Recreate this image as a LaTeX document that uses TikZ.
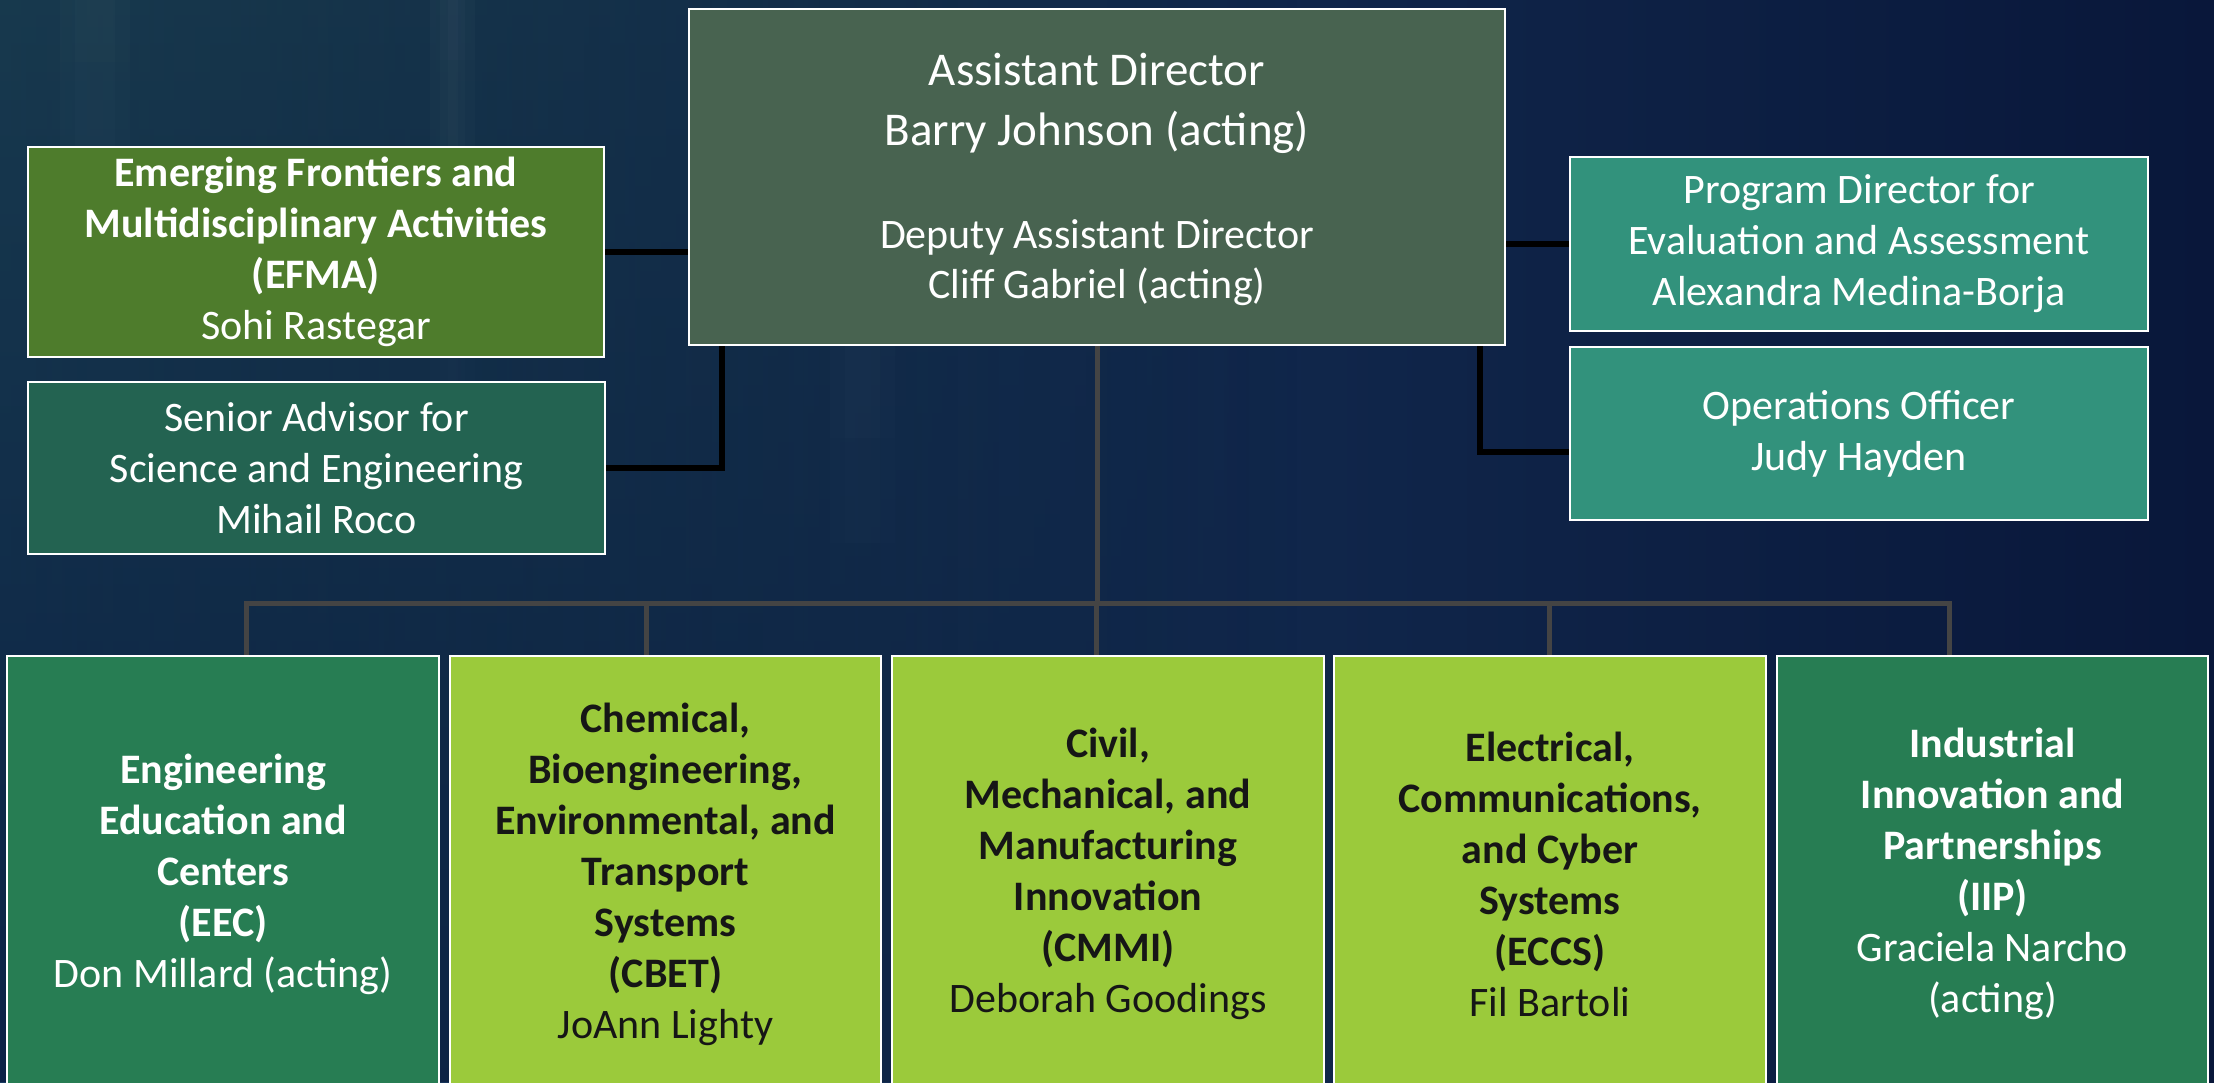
\documentclass[tikz,border=0pt]{standalone}
\usepackage{fontspec}
\setmainfont{Carlito}
\usetikzlibrary{fadings}
\definecolor{bgleft}{HTML}{1A3C62}
\definecolor{bgright}{HTML}{09173A}
\definecolor{bgteal}{HTML}{215068}
\definecolor{bgblue}{HTML}{0D2A5C}
\definecolor{adgreen}{HTML}{486350}
\definecolor{olive}{HTML}{4E7C2C}
\definecolor{pine}{HTML}{236351}
\definecolor{teal}{HTML}{32927C}
\definecolor{forest}{HTML}{277D53}
\definecolor{lime}{HTML}{9BCA3B}
\definecolor{ink}{HTML}{161616}
\definecolor{busgray}{HTML}{444444}
\begin{document}
\begin{tikzpicture}[x=1pt,y=-1pt,
  orgbox/.style={draw=white, line width=2.5pt, inner sep=0pt, align=center,
    text=white, font=\fontsize{42}{51}\selectfont},
  limebox/.style={orgbox, fill=lime, text=ink},
  conn/.style={line width=5.5pt, black},
  busline/.style={line width=5pt, busgray},
  streak/.style={white, path fading=south},
  bigtext/.style={text=white, align=center, font=\fontsize{47}{60}\selectfont},
  subtext/.style={text=white, align=center, font=\fontsize{42}{50}\selectfont}]
\useasboundingbox (0,0) rectangle (2214,1082);
\clip (0,0) rectangle (2214,1082);

% backdrop with soft vertical streaks
\fill[left color=bgleft, right color=bgright] (0,0) rectangle (2214,1082);
\fill[top color=bgteal, bottom color=bgblue, path fading=east, fill opacity=0.6]
  (0,0) rectangle (1300,1082);
\foreach \a/\b in {430/475, 440/465, 448/458}
  \fill[streak, opacity=0.018] (\a,0) rectangle (\b,600);
\foreach \a/\b in {830/895, 845/880}
  \fill[streak, opacity=0.015] (\a,280) rectangle (\b,700);
\foreach \a/\b in {60/130, 75/115}
  \fill[streak, opacity=0.015] (\a,0) rectangle (\b,500);

% upper level
\node[orgbox, fill=adgreen, minimum width=816, minimum height=336] (ad) at (1097,177) {};
\node[bigtext] (adname) at (1097,103) {Assistant Director\\Barry Johnson (acting)};
\node[subtext] (addep) at (1097,263) {Deputy Assistant Director\\Cliff Gabriel (acting)};

\node[orgbox, fill=olive, minimum width=576, minimum height=210] (efma) at (316,252)
  {\textbf{Emerging Frontiers and}\\\textbf{Multidisciplinary Activities}\\\textbf{(EFMA)}\\Sohi Rastegar};
\node[orgbox, fill=pine, minimum width=577, minimum height=172] (sa) at (316.5,468)
  {Senior Advisor for\\Science and Engineering\\Mihail Roco};
\node[orgbox, fill=teal, minimum width=578, minimum height=174] (pd) at (1859,244)
  {Program Director for\\Evaluation and Assessment\\Alexandra Medina-Borja};
\node[orgbox, fill=teal, minimum width=578, minimum height=173] (ops) at (1859,433.5)
  {Operations Officer\\Judy Hayden};

% divisions
\node[orgbox, fill=forest, minimum width=432, minimum height=436] (eec) at (223,874)
  {\textbf{Engineering}\\\textbf{Education and}\\\textbf{Centers}\\\textbf{(EEC)}\\Don Millard (acting)};
\node[limebox, minimum width=431, minimum height=436] (cbet) at (665.5,874)
  {\textbf{Chemical,}\\\textbf{Bioengineering,}\\\textbf{Environmental, and}\\\textbf{Transport}\\\textbf{Systems}\\\textbf{(CBET)}\\JoAnn Lighty};
\node[limebox, minimum width=432, minimum height=436] (cmmi) at (1108,874)
  {\textbf{Civil,}\\\textbf{Mechanical, and}\\\textbf{Manufacturing}\\\textbf{Innovation}\\\textbf{(CMMI)}\\Deborah Goodings};
\node[limebox, minimum width=432, minimum height=436] (eccs) at (1550,874)
  {\textbf{Electrical,}\\\textbf{Communications,}\\\textbf{and Cyber}\\\textbf{Systems}\\\textbf{(ECCS)}\\Fil Bartoli};
\node[orgbox, fill=forest, minimum width=431, minimum height=436] (iip) at (1992.5,874)
  {\textbf{Industrial}\\\textbf{Innovation and}\\\textbf{Partnerships}\\\textbf{(IIP)}\\Graciela Narcho\\(acting)};

% staff connectors
\coordinate (saj) at (722,468);
\coordinate (opj) at (1480,452);
\draw[conn] (efma.east) -- (ad.west |- efma.east);
\draw[conn] (ad.south -| saj) -- (saj) -- (sa.east);
\draw[conn] (ad.east |- pd.west) -- (pd.west);
\draw[conn] (ad.south -| opj) -- (opj) -- (opj -| ops.west);

% division bus
\coordinate (bus) at (1097,603);
\coordinate (d1) at (246,603);
\coordinate (d2) at (646,603);
\coordinate (d3) at (1096,603);
\coordinate (d4) at (1549,603);
\coordinate (d5) at (1949,603);
\draw[busline] (ad.south) -- (bus);
\draw[busline, line cap=rect] (d1) -- (d5);
\draw[busline] (d1) -- (d1 |- eec.north);
\draw[busline] (d2) -- (d2 |- cbet.north);
\draw[busline] (d3) -- (d3 |- cmmi.north);
\draw[busline] (d4) -- (d4 |- eccs.north);
\draw[busline] (d5) -- (d5 |- iip.north);
\end{tikzpicture}
\end{document}
